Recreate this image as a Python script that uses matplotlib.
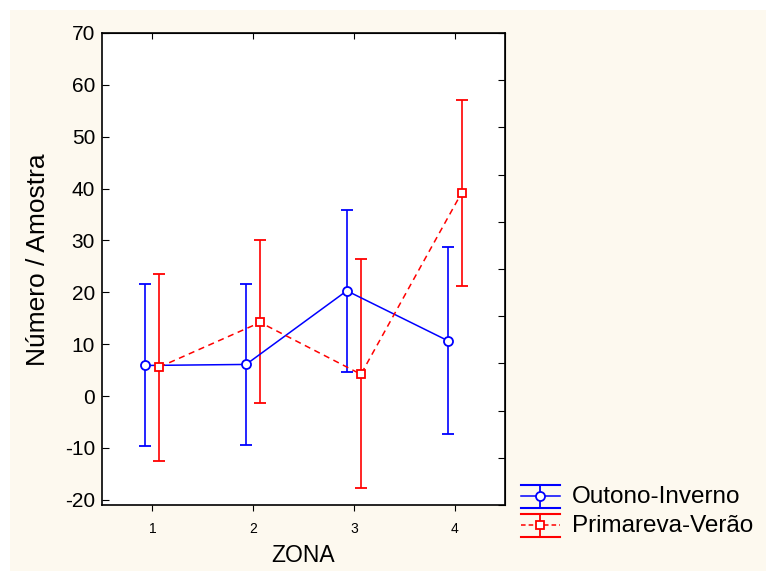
import numpy as np
import matplotlib
matplotlib.use("Agg")
import matplotlib.pyplot as plt
from matplotlib.patches import Rectangle
from matplotlib.lines import Line2D

plt.rcParams['font.family'] = ['Liberation Sans', 'DejaVu Sans']
plt.rcParams['axes.unicode_minus'] = False

# data
zonas = [1, 2, 3, 4]
oi_mean = [5.9, 6.1, 20.3, 10.7]
oi_upper = [21.6, 21.7, 35.9, 28.7]
oi_lower = [-9.7, -9.5, 4.7, -7.3]
pv_mean = [5.6, 14.2, 4.2, 39.2]
pv_upper = [23.6, 30.0, 26.4, 57.1]
pv_lower = [-12.5, -1.3, -17.7, 21.2]
series_names = ['Outono-Inverno', 'Primareva-Verão']

W, H = 766, 571
fig = plt.figure(figsize=(W / 100, H / 100), dpi=100)
fig.patch.set_facecolor('white')
fig.patches.append(Rectangle((10 / W, 0), 1, 1 - 10 / H, transform=fig.transFigure,
                             facecolor='#fdf9ef', edgecolor='none', zorder=-10))

ax = fig.add_axes([102 / W, 1 - 505 / H, 403 / W, 472 / H])
ax.set_facecolor('white')

x = np.array(zonas, dtype=float)
oi_m = np.array(oi_mean)
pv_m = np.array(pv_mean)
oi_err = [oi_m - np.array(oi_lower), np.array(oi_upper) - oi_m]
pv_err = [pv_m - np.array(pv_lower), np.array(pv_upper) - pv_m]

blue, red = '#0000ff', '#ff0000'
ax.errorbar(x - 0.07, oi_m, yerr=oi_err, color=blue, lw=1.1, ls='-',
            marker='o', ms=6.5, mfc='white', mec=blue, mew=1.3, capsize=4,
            elinewidth=1.2, capthick=1.3)
ax.errorbar(x + 0.07, pv_m, yerr=pv_err, color=red, lw=1.1, ls='--',
            dashes=(4, 3), marker='s', ms=6, mfc='white', mec=red, mew=1.3,
            capsize=4, elinewidth=1.2, capthick=1.3)

ax.set_xlim(0.5, 4.5)
ax.set_ylim(-21, 70)
ax.set_xticks(zonas)
ax.set_yticks(np.arange(-20, 71, 10))
ax.tick_params(axis='x', direction='out', length=4, labelsize=10, pad=8)
ax.tick_params(axis='y', direction='in', length=5, labelsize=15, pad=5)
for s in ax.spines.values():
    s.set_linewidth(1.2)

# right and top axes with unlabeled ticks
sec_y = ax.secondary_yaxis('right', functions=(lambda y: (y + 21) / 91 * 10,
                                               lambda v: v / 10 * 91 - 21))
sec_y.set_yticks(range(11))
sec_y.set_yticklabels([])
sec_y.tick_params(direction='in', length=5)
sec_x = ax.secondary_xaxis('top')
sec_x.set_xticks(zonas)
sec_x.set_xticklabels([])
sec_x.tick_params(direction='in', length=4)

ax.set_xlabel('ZONA', fontsize=16.5, labelpad=6)
ax.set_ylabel('Número / Amostra', fontsize=19)
ax.yaxis.set_label_coords(-0.128, 0.52)

# legend drawn by hand, in figure pixels, to get the wide errorbar symbol
lg = fig.add_axes([0, 0, 1, 1], facecolor='none')
lg.set_xlim(0, W)
lg.set_ylim(H, 0)
lg.axis('off')
for i, (name, col, ls, mk) in enumerate(zip(series_names, [blue, red],
                                            ['-', '--'], ['o', 's'])):
    yc = 496 + i * 29
    for dy in (-11.5, 11.5):
        lg.add_line(Line2D([521, 560], [yc + dy, yc + dy], color=col, lw=1.5))
    lg.add_line(Line2D([540, 540], [yc - 11.5, yc + 11.5], color=col, lw=1.3))
    lg.add_line(Line2D([521, 560], [yc, yc], color=col, lw=1.1, ls=ls,
                       dashes=(3, 2) if ls == '--' else (None, None)))
    lg.plot([540], [yc], marker=mk, ms=6.5 if mk == 'o' else 6, mfc='white',
            mec=col, mew=1.3, ls='none')
    lg.text(572, yc + 1, name, fontsize=17.5, va='center', ha='left')

fig.savefig('out.png', dpi=100, facecolor=fig.get_facecolor())
